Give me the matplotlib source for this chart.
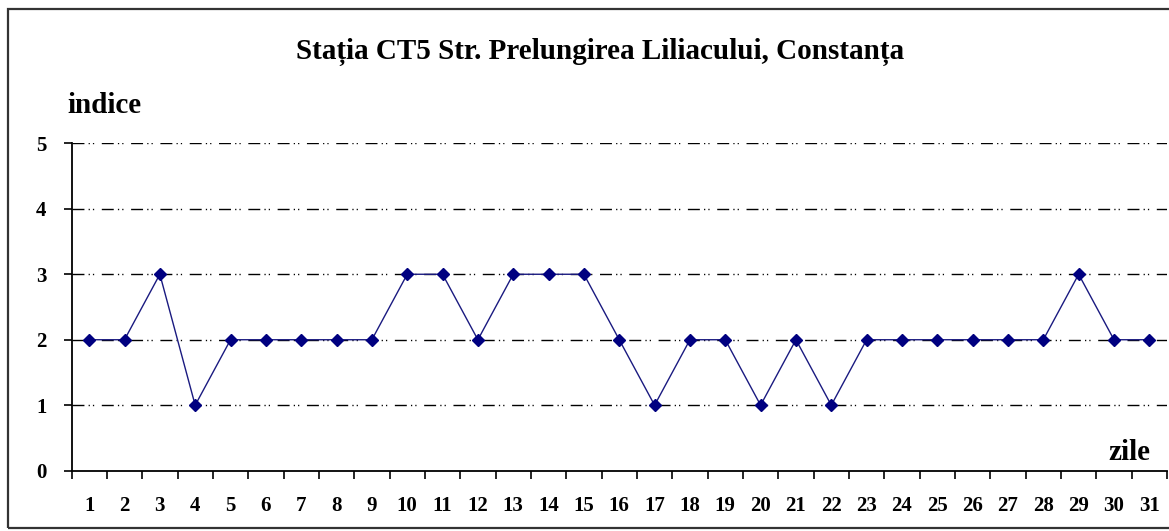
import matplotlib
matplotlib.use("Agg")
import matplotlib.pyplot as plt
from matplotlib.patches import Rectangle
import numpy as np

days = [str(d) for d in range(1, 32)]
indice = [2, 2, 3, 1, 2, 2, 2, 2, 2, 3, 3, 2, 3, 3, 3, 2, 1, 2, 2, 1, 2, 1, 2, 2, 2, 2, 2, 2, 3, 2, 2]
y_ticks = [0, 1, 2, 3, 4, 5]
title = "Stația CT5 Str. Prelungirea Liliacului, Constanța"

plt.rcParams['font.family'] = ['Liberation Serif', 'DejaVu Serif']
plt.rcParams['font.weight'] = 'bold'

W, H = 1169, 531
fig = plt.figure(figsize=(W / 100, H / 100), dpi=100)
fig.patch.set_facecolor('white')

# outer frame
fig.patches.append(Rectangle((8 / W, 3 / H), 1.2, (H - 12) / H, transform=fig.transFigure,
                             fill=False, edgecolor='#333333', linewidth=1.6))

x0, x1 = 71.5, 1167
y0, y1 = 470.7, 143.3
ax = fig.add_axes([x0 / W, 1 - y0 / H, (x1 - x0) / W, (y0 - y1) / H])

x = np.arange(len(days))
ax.plot(x, indice, color='#1a1a80', linewidth=1.0, marker='D', markersize=6,
        markerfacecolor='#000080', markeredgecolor='#000080', zorder=3, clip_on=False)

ax.set_xlim(-0.5, len(days) - 0.5)
ax.set_ylim(0, 5)

for sp in ['top', 'right']:
    ax.spines[sp].set_visible(False)
for sp in ['left', 'bottom']:
    ax.spines[sp].set_linewidth(1.3)
    ax.spines[sp].set_color('black')

ax.set_xticks(x)
ax.set_xticklabels(days, fontsize=15, fontweight='bold')
ax.set_xticks(np.arange(-0.5, len(days)), minor=True)
ax.tick_params(axis='x', which='major', length=0, pad=18)
ax.tick_params(axis='x', which='minor', length=6, width=1.2, direction='out')

ax.set_yticks(y_ticks)
ax.set_yticklabels([str(v) for v in y_ticks], fontsize=15, fontweight='bold')
ax.tick_params(axis='y', length=6, width=1.2, direction='out', pad=12)

for v in y_ticks[1:]:
    ax.axhline(v, color='black', linewidth=1.0,
               linestyle=(0, (8.6, 3.0, 0.9, 2.2, 0.9, 5.5)), zorder=1)

fig.text(600 / W, 1 - 52 / H, title, ha='center', va='center', fontsize=21, fontweight='bold')
fig.text(67 / W, 1 - 113 / H, "indice", ha='left', va='baseline', fontsize=21, fontweight='bold')
fig.text(1150 / W, 1 - 460 / H, "zile", ha='right', va='baseline', fontsize=21, fontweight='bold')

fig.savefig('out.png', dpi=100, facecolor='white')
